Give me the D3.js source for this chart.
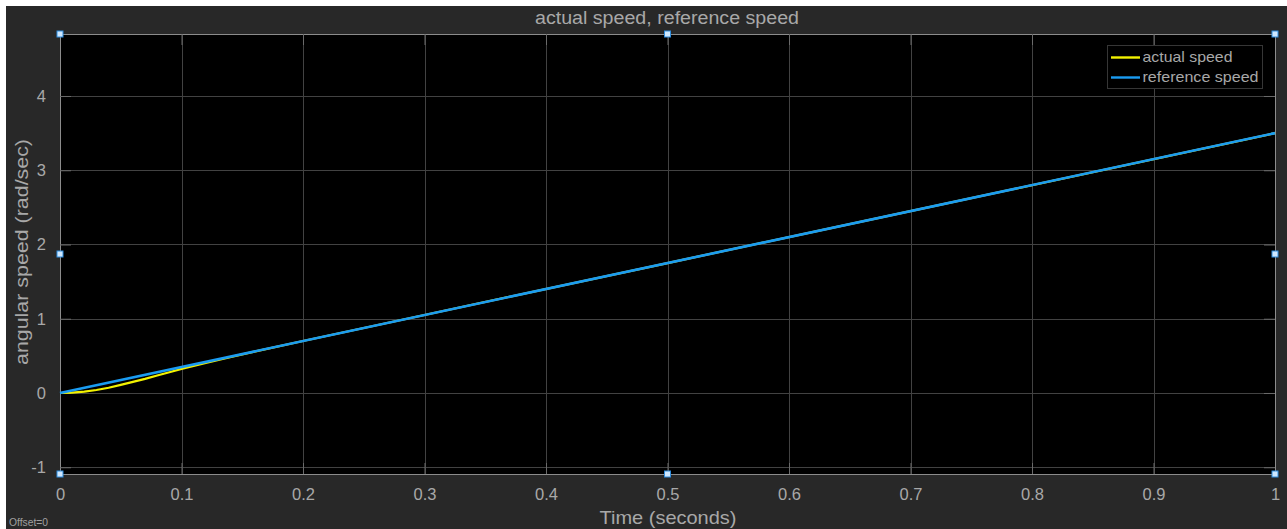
<!DOCTYPE html>
<html lang="en">
<head>
<meta charset="utf-8">
<title>actual speed, reference speed</title>
<script src="https://d3js.org/d3.v7.min.js"></script>
<style>
  body { margin: 0; background: #fff; font-family: "Liberation Sans", Arial, sans-serif; }
  svg { display: block; }
</style>
</head>
<body>
<div id="vis"></div>
<script>
// data
const refTime = [0, 1];
const refSpeed = [0, 3.5];

const actTime  = [0, 0.01, 0.02, 0.03, 0.04, 0.05, 0.06, 0.07, 0.08, 0.09, 0.1, 0.12, 0.14, 0.16, 0.2, 0.3, 0.5, 0.7, 1];
const actSpeed = [0, 0.004, 0.018, 0.04, 0.07, 0.11, 0.15, 0.19, 0.235, 0.28, 0.325, 0.405, 0.483, 0.558, 0.70, 1.05, 1.75, 2.45, 3.5];

const xTicks = [0, 0.1, 0.2, 0.3, 0.4, 0.5, 0.6, 0.7, 0.8, 0.9, 1];
const yTicks = [-1, 0, 1, 2, 3, 4];

const seriesNames = ["actual speed", "reference speed"];
const seriesColours = ["#f2f200", "#1a9cf2"];

const width = 1287, height = 529;
const plot = { left: 60, right: 1275, top: 34, bottom: 474 };
const textColour = '#a8a8a8';

const svg = d3.select('#vis').append('svg')
  .attr('width', width)
  .attr('height', height);

// figure background (white edge top/left like the screenshot)
svg.append('rect').attr('x', 6).attr('y', 6).attr('width', width - 6).attr('height', height - 6)
  .attr('fill', '#282828');

const x = d3.scaleLinear().domain([0, 1]).range([plot.left, plot.right]);
const y = d3.scaleLinear().domain([-1.091, 4.835]).range([plot.bottom, plot.top]);

svg.append('rect')
  .attr('x', plot.left).attr('y', plot.top)
  .attr('width', plot.right - plot.left).attr('height', plot.bottom - plot.top)
  .attr('fill', '#000');

// grid
const grid = svg.append('g').attr('stroke', '#424242').attr('stroke-width', 1);
grid.selectAll('.gx').data(xTicks.slice(1, -1)).enter().append('line')
  .attr('x1', d => Math.round(x(d)) + 0.5).attr('x2', d => Math.round(x(d)) + 0.5)
  .attr('y1', plot.top).attr('y2', plot.bottom);
grid.selectAll('.gy').data(yTicks).enter().append('line')
  .attr('y1', d => Math.round(y(d)) + 0.5).attr('y2', d => Math.round(y(d)) + 0.5)
  .attr('x1', plot.left).attr('x2', plot.right);

// axes with inward ticks on all four sides
const tickLen = 11;
const axisColour = '#8c8c8c';
const fmt = d => d3.format('~g')(d).replace('\u2212', '-');
const xAxisB = d3.axisBottom(x).tickValues(xTicks).tickSizeInner(-tickLen).tickSizeOuter(0).tickPadding(14)
  .tickFormat(fmt);
const xAxisT = d3.axisTop(x).tickValues(xTicks).tickSizeInner(-tickLen).tickSizeOuter(0).tickFormat('');
const yAxisL = d3.axisLeft(y).tickValues(yTicks).tickSizeInner(-tickLen).tickSizeOuter(0).tickPadding(14)
  .tickFormat(fmt);
const yAxisR = d3.axisRight(y).tickValues(yTicks).tickSizeInner(-tickLen).tickSizeOuter(0).tickFormat('');

function styleAxis(g) {
  g.select('.domain').attr('stroke', axisColour);
  g.selectAll('.tick line').attr('stroke', '#6a6a6a');
  g.selectAll('.tick text').attr('fill', textColour).style('font-size', '16.5px')
    .style('font-family', '"Liberation Sans", Arial, sans-serif');
}
svg.append('g').attr('transform', `translate(0,${plot.bottom})`).call(xAxisB).call(styleAxis);
svg.append('g').attr('transform', `translate(0,${plot.top})`).call(xAxisT).call(styleAxis);
svg.append('g').attr('transform', `translate(${plot.left},0)`).call(yAxisL).call(styleAxis);
svg.append('g').attr('transform', `translate(${plot.right},0)`).call(yAxisR).call(styleAxis);

// lines
const line = d3.line().x(d => x(d[0])).y(d => y(d[1]));
svg.append('path')
  .datum(actTime.map((t, i) => [t, actSpeed[i]]))
  .attr('d', line).attr('fill', 'none')
  .attr('stroke', seriesColours[0]).attr('stroke-width', 2.2);
svg.append('path')
  .datum(refTime.map((t, i) => [t, refSpeed[i]]))
  .attr('d', line).attr('fill', 'none')
  .attr('stroke', seriesColours[1]).attr('stroke-width', 2.6);

// selection handles
const hx = [0, 0.5, 1], hy = [y.domain()[0], (y.domain()[0] + y.domain()[1]) / 2, y.domain()[1]];
const handles = [];
hx.forEach(a => hy.forEach(b => { if (!(a === 0.5 && b === hy[1])) handles.push([a, b]); }));
svg.selectAll('.handle').data(handles).enter().append('rect')
  .attr('x', d => x(d[0]) - 3).attr('y', d => y(d[1]) - 3)
  .attr('width', 6).attr('height', 6)
  .attr('fill', '#cfe8ff').attr('stroke', '#2f8ee0').attr('stroke-width', 1);

// legend
const legend = svg.append('g').attr('transform', 'translate(1107,45)');
legend.append('rect').attr('x', 0.5).attr('y', 0.5).attr('width', 155).attr('height', 43)
  .attr('fill', '#000').attr('stroke', '#363636');
const legendLen = [90, 116];
seriesNames.forEach((name, i) => {
  legend.append('line').attr('x1', 4).attr('x2', 33).attr('y1', 12.5 + i * 20).attr('y2', 12.5 + i * 20)
    .attr('stroke', seriesColours[i]).attr('stroke-width', 2.4);
  legend.append('text').attr('x', 35.5).attr('y', 17 + i * 20).text(name)
    .attr('textLength', legendLen[i]).attr('lengthAdjust', 'spacingAndGlyphs')
    .attr('fill', textColour).style('font-size', '15px');
});

// texts
svg.append('text').attr('x', 667).attr('y', 24)
  .attr('text-anchor', 'middle').attr('fill', textColour).style('font-size', '18px')
  .attr('textLength', 264).attr('lengthAdjust', 'spacingAndGlyphs')
  .text('actual speed, reference speed');
svg.append('text').attr('x', 668).attr('y', 524)
  .attr('text-anchor', 'middle').attr('fill', textColour).style('font-size', '18.5px')
  .attr('textLength', 137).attr('lengthAdjust', 'spacingAndGlyphs')
  .text('Time (seconds)');
svg.append('text').attr('transform', 'translate(28,252) rotate(-90)')
  .attr('text-anchor', 'middle').attr('fill', textColour).style('font-size', '18.5px')
  .attr('textLength', 226).attr('lengthAdjust', 'spacingAndGlyphs')
  .text('angular speed (rad/sec)');
svg.append('text').attr('x', 9).attr('y', 526).attr('fill', '#a0a0a0').style('font-size', '10px')
  .attr('textLength', 39).attr('lengthAdjust', 'spacingAndGlyphs')
  .text('Offset=0');
</script>
</body>
</html>
